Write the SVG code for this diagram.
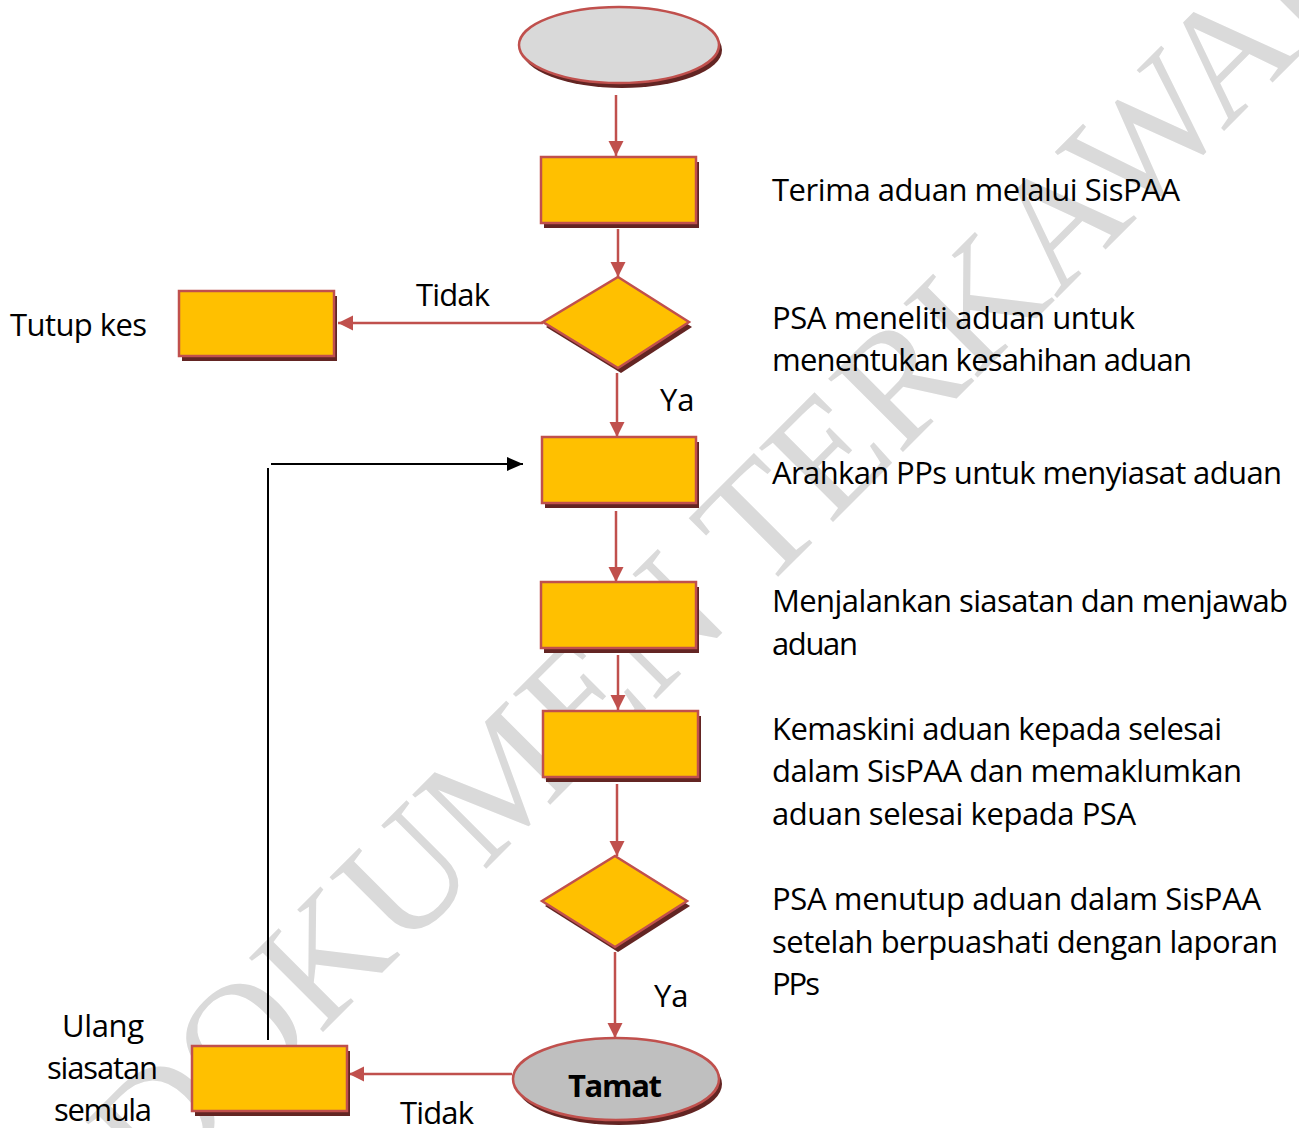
<svg xmlns="http://www.w3.org/2000/svg" width="1299" height="1128" viewBox="0 0 1299 1128">
<style>
.box{fill:#FFC000;stroke:#C0504D;stroke-width:2.5}
.term{stroke:#C0504D;stroke-width:2.5}
.sh{fill:#632523}
.conn{fill:none;stroke:#C0504D;stroke-width:2.5;marker-end:url(#ar)}
.blk{fill:none;stroke:#000;stroke-width:2}
.t{font-family:"Open Sans","Noto Sans",sans-serif;font-size:31px;fill:#000}
.b{font-weight:bold;text-anchor:middle}
.wm{font-family:"Liberation Serif","Times New Roman",serif;font-size:160px;fill:#DADADA}
</style>
<defs>
<marker id="ar" markerUnits="userSpaceOnUse" markerWidth="16" markerHeight="16" refX="15" refY="7.5" orient="auto"><path d="M0,0 L15,7.5 L0,15 z" fill="#C0504D"/></marker>
<marker id="ab" markerUnits="userSpaceOnUse" markerWidth="17" markerHeight="16" refX="16" refY="7" orient="auto"><path d="M0,0 L16,7 L0,14 z" fill="#000"/></marker>
</defs>
<rect width="1299" height="1128" fill="#fff"/>
<text class="wm" text-anchor="middle" transform="translate(765,590) rotate(-45)">DOKUMEN TERKAWAL</text>

<g id="connectors">
<path class="conn" d="M616,95 V156"/>
<path class="conn" d="M618,229 V277"/>
<path class="conn" d="M543,323 H338"/>
<path class="conn" d="M617,373 V437"/>
<path class="conn" d="M616,511 V582"/>
<path class="conn" d="M618,655 V710"/>
<path class="conn" d="M617,784 V856"/>
<path class="conn" d="M615,952 V1038"/>
<path class="conn" d="M512,1074 H349"/>
<path class="blk" d="M268,1040 V468"/>
<path class="blk" d="M271,464 H523" marker-end="url(#ab)"/>
</g>

<g id="start">
<ellipse class="sh" cx="622" cy="50" rx="100" ry="38"/>
<ellipse class="term" cx="619" cy="45" rx="100" ry="38" fill="#D9D9D9"/>
</g>
<g id="terima">
<rect class="sh" x="544" y="162" width="155" height="66"/>
<rect class="box" x="541" y="157" width="155" height="66"/>
</g>
<g id="decision1">
<polygon class="sh" points="621,282 692,327 621,373 546,327"/>
<polygon class="box" points="618,277 689,322 618,368 543,322"/>
</g>
<g id="tutup">
<rect class="sh" x="182" y="296" width="155" height="65"/>
<rect class="box" x="179" y="291" width="155" height="65"/>
</g>
<g id="arahkan">
<rect class="sh" x="545" y="442" width="154" height="66"/>
<rect class="box" x="542" y="437" width="154" height="66"/>
</g>
<g id="menjalankan">
<rect class="sh" x="544" y="587" width="155" height="66"/>
<rect class="box" x="541" y="582" width="155" height="66"/>
</g>
<g id="kemaskini">
<rect class="sh" x="546" y="716" width="155" height="66"/>
<rect class="box" x="543" y="711" width="155" height="66"/>
</g>
<g id="decision2">
<polygon class="sh" points="618,861 690,906 618,952 545,906"/>
<polygon class="box" points="615,856 687,901 615,947 542,901"/>
</g>
<g id="tamat">
<ellipse class="sh" cx="619" cy="1084" rx="103" ry="41"/>
<ellipse class="term" cx="616" cy="1079" rx="103" ry="41" fill="#BFBFBF"/>
<text class="t b" x="615" y="1097" textLength="94">Tamat</text>
</g>
<g id="ulang">
<rect class="sh" x="195" y="1051" width="155" height="65"/>
<rect class="box" x="192" y="1046" width="155" height="65"/>
</g>

<g id="labels">
<text class="t" x="416" y="306" textLength="74">Tidak</text>
<text class="t" x="660" y="411">Ya</text>
<text class="t" x="654" y="1007">Ya</text>
<text class="t" x="400" y="1124" textLength="74">Tidak</text>
<text class="t" x="10" y="336" textLength="137">Tutup kes</text>
<text class="t" x="62" y="1037" textLength="82">Ulang</text>
<text class="t" x="47" y="1079" textLength="111">siasatan</text>
<text class="t" x="54" y="1121" textLength="98">semula</text>
</g>

<g id="descriptions">
<text class="t" x="772" y="201" textLength="408">Terima aduan melalui SisPAA</text>
<text class="t" x="772" y="329" textLength="363">PSA meneliti aduan untuk</text>
<text class="t" x="772" y="371" textLength="420">menentukan kesahihan aduan</text>
<text class="t" x="772" y="484" textLength="510">Arahkan PPs untuk menyiasat aduan</text>
<text class="t" x="772" y="612" textLength="516">Menjalankan siasatan dan menjawab</text>
<text class="t" x="772" y="655" textLength="86">aduan</text>
<text class="t" x="772" y="740" textLength="450">Kemaskini aduan kepada selesai</text>
<text class="t" x="772" y="782" textLength="470">dalam SisPAA dan memaklumkan</text>
<text class="t" x="772" y="825" textLength="364">aduan selesai kepada PSA</text>
<text class="t" x="772" y="910" textLength="489">PSA menutup aduan dalam SisPAA</text>
<text class="t" x="772" y="953" textLength="506">setelah berpuashati dengan laporan</text>
<text class="t" x="772" y="995" textLength="48">PPs</text>
</g>
</svg>
